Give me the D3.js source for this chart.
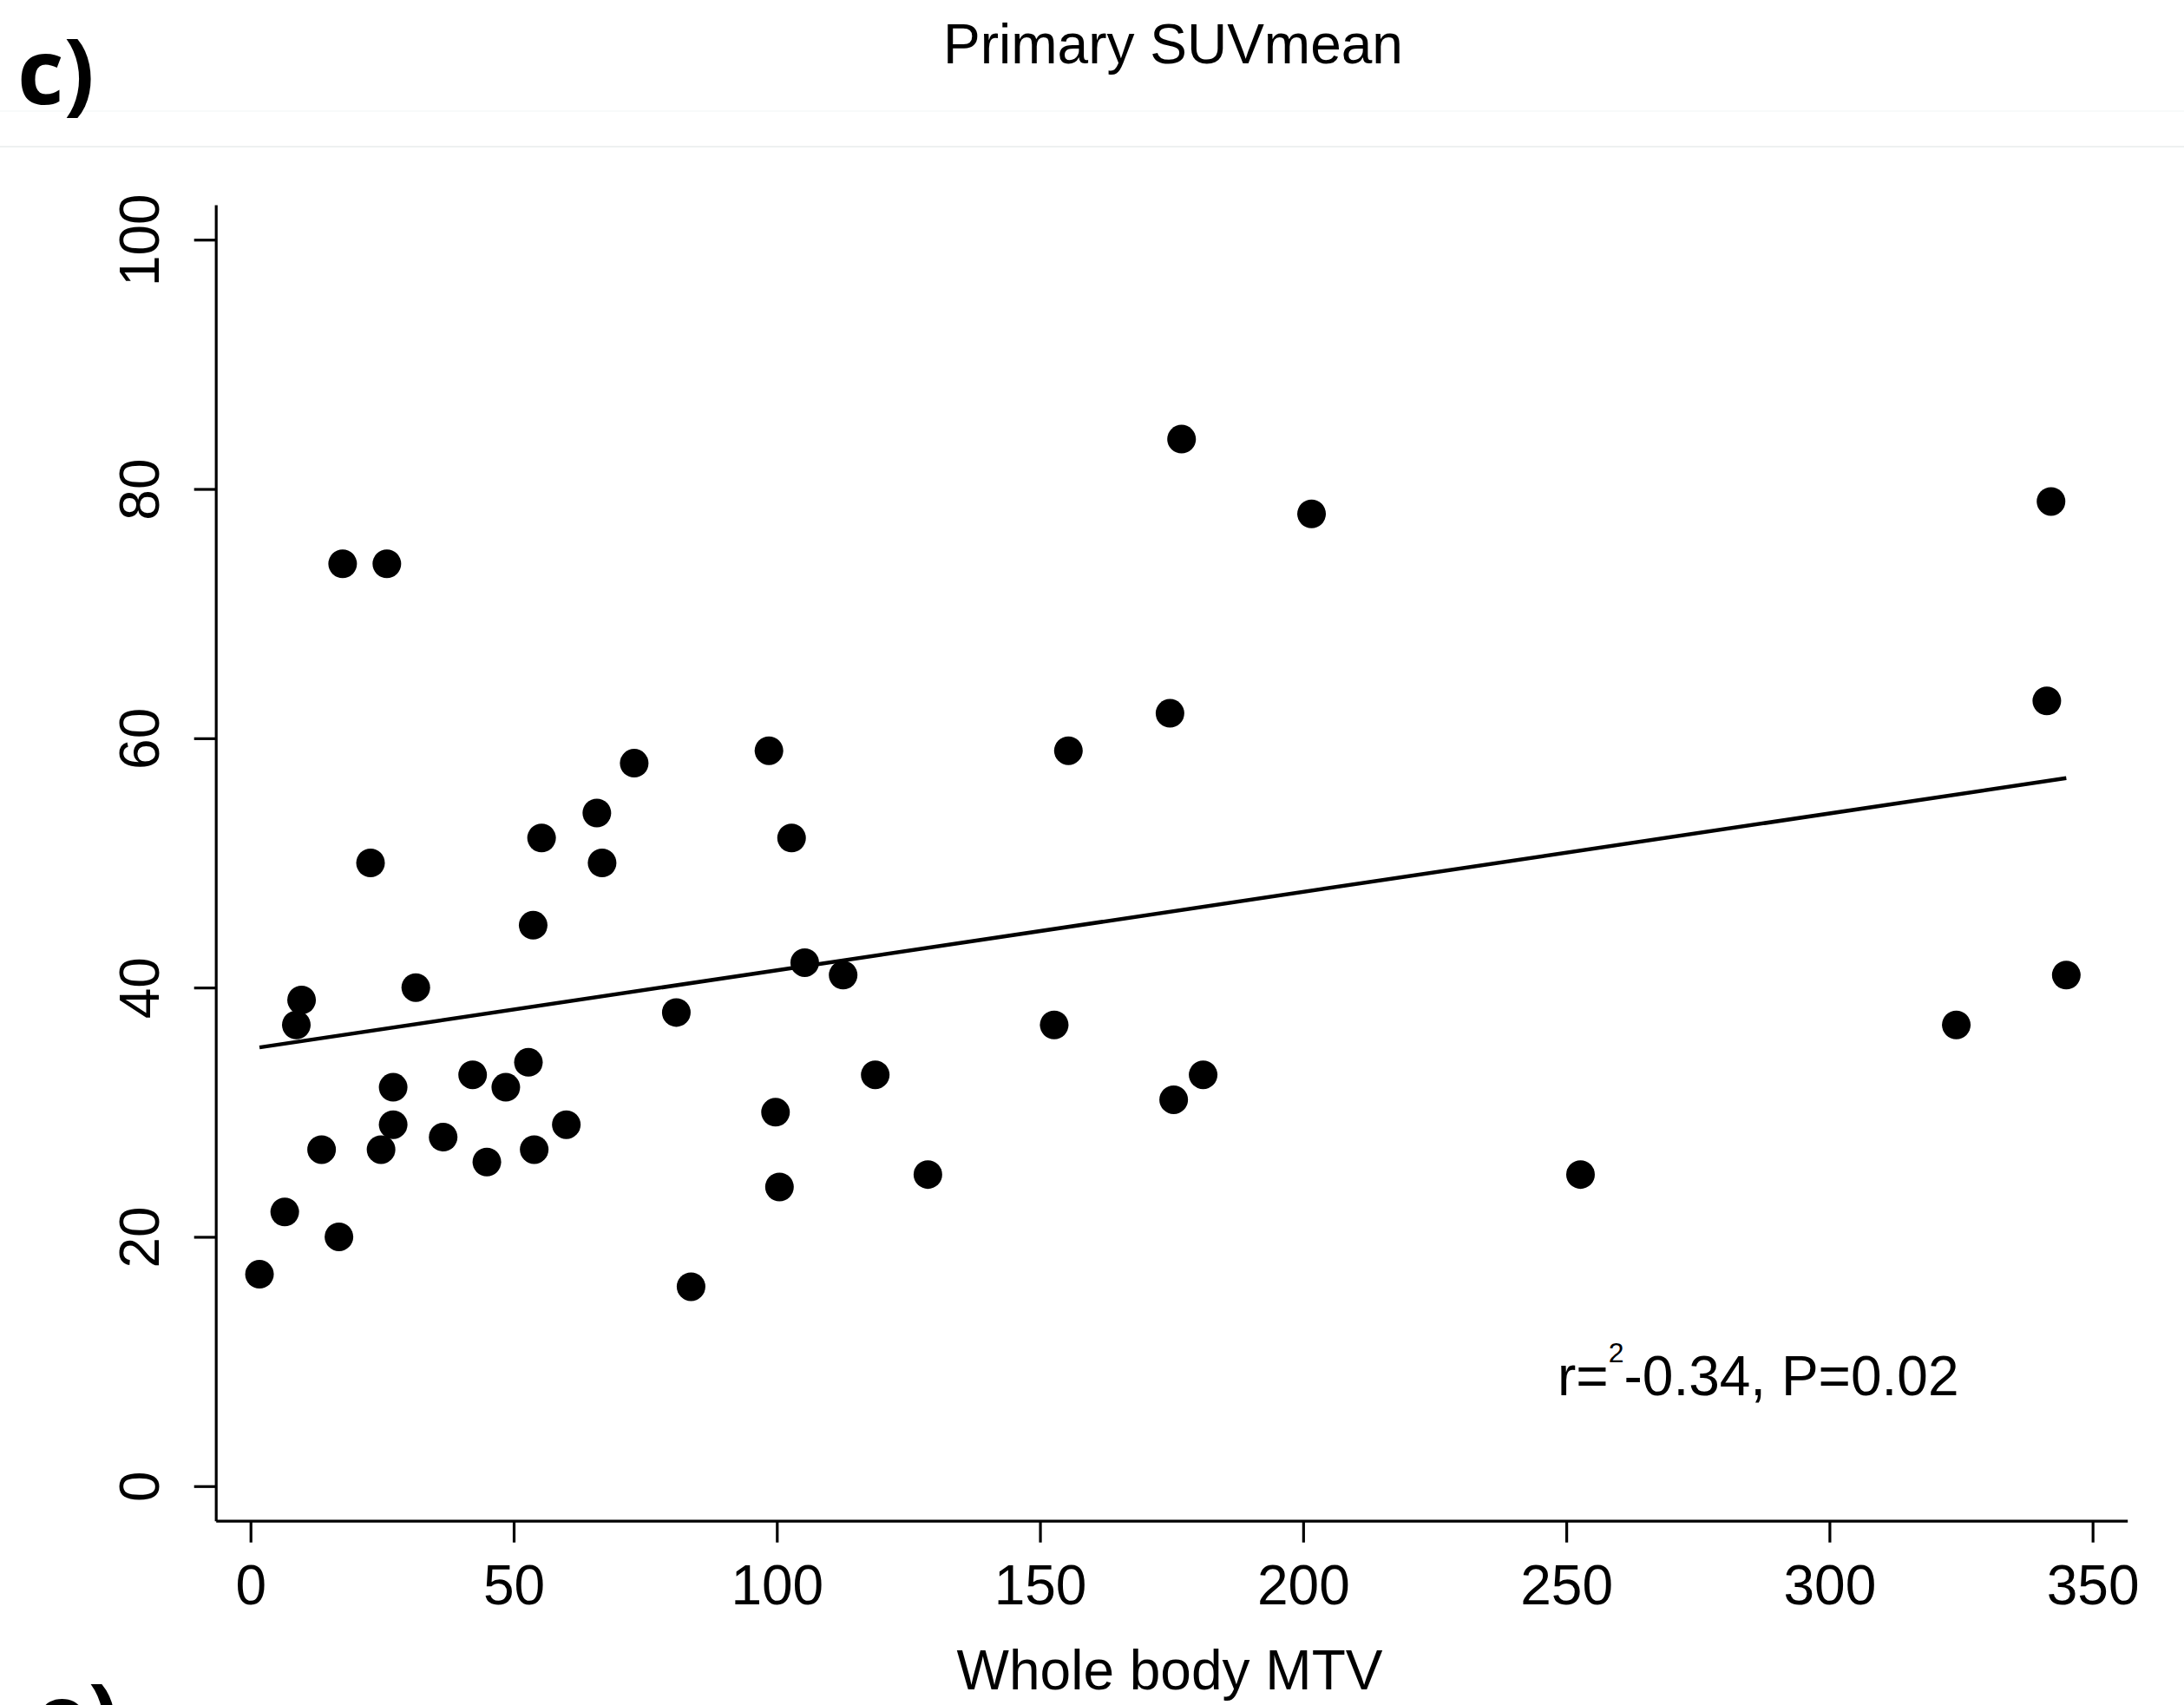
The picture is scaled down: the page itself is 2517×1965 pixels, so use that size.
<!DOCTYPE html>
<html>
<head>
<meta charset="utf-8">
<script src="https://cdn.jsdelivr.net/npm/d3@7"></script>
<style>
  html, body { margin: 0; padding: 0; background: #ffffff; }
  svg { display: block; }
  text { font-family: "Liberation Sans", Arial, sans-serif; fill: #000; }
</style>
</head>
<body>
<script>
// ---- data ----
const mtv = [1.7, 6.5, 8.7, 9.7, 13.5, 16.8, 17.5, 22.8, 24.8, 25.9, 27.1, 27.1, 31.4, 36.6, 42.2, 44.9,
  48.5, 52.8, 53.7, 53.9, 55.3, 60.0, 65.8, 66.8, 72.9, 80.9, 83.7, 98.5, 99.75, 100.5, 102.8, 105.3,
  112.6, 118.7, 128.7, 152.7, 155.4, 174.7, 175.4, 176.9, 181.0, 201.6, 252.7, 324.1, 341.3, 342.1, 345.0];
const suvmean = [17, 22, 37, 39, 27, 20, 74, 50, 27, 74, 32, 29, 40, 28, 33, 26,
  32, 34, 45, 27, 52, 29, 54, 50, 58, 38, 16, 59, 30, 24, 52, 42,
  41, 33, 25, 37, 59, 62, 31, 84, 33, 78, 25, 37, 63, 79, 41];
const fitX = [1.7, 345.0];
const fitY = [35.2, 56.8];
const xTicks = [0, 50, 100, 150, 200, 250, 300, 350];
const yTicks = [0, 20, 40, 60, 80, 100];
const titleText = "Primary SUVmean";
const xLabel = "Whole body MTV";
const panelLabel = "c)";
const nextPanelLabel = "e)";

// ---- layout ----
const W = 2517, H = 1965;
const svg = d3.select("body").append("svg").attr("width", W).attr("height", H);

const x = d3.scaleLinear().domain([-6.6, 356.6]).range([248.7, 2451.7]);
const y = d3.scaleLinear().domain([-2.78, 102.8]).range([1752.7, 236]);

// faint separator lines at top
svg.append("line").attr("x1", 0).attr("x2", W).attr("y1", 128).attr("y2", 128)
  .attr("stroke", "#f6f8f8").attr("stroke-width", 1.5);
svg.append("line").attr("x1", 0).attr("x2", W).attr("y1", 169).attr("y2", 169)
  .attr("stroke", "#eef1f1").attr("stroke-width", 2);

// panel labels
svg.append("text").attr("x", 20).attr("y", 120)
  .style("font-family", "'Open Sans', 'DejaVu Sans', sans-serif")
  .style("font-weight", 700).style("font-size", "104px").text(panelLabel);
svg.append("text").attr("x", 40).attr("y", 2016)
  .style("font-family", "'Open Sans', 'DejaVu Sans', sans-serif")
  .style("font-weight", 700).style("font-size", "104px").text(nextPanelLabel);

// title
svg.append("text").attr("x", 1352).attr("y", 73).attr("text-anchor", "middle")
  .style("font-size", "64px").text(titleText);

// x axis
const gx = svg.append("g").attr("transform", `translate(0,${y.range()[0]})`)
  .call(d3.axisBottom(x).tickValues(xTicks).tickFormat(d3.format("d")).tickSize(25).tickSizeOuter(0));
gx.select(".domain").attr("stroke", "#000").attr("stroke-width", 3.2);
gx.selectAll(".tick line").attr("stroke", "#000").attr("stroke-width", 3.2);
gx.selectAll(".tick text").attr("y", 96).attr("dy", 0)
  .style("font-size", "64px").style("font-family", "'Liberation Sans', Arial, sans-serif").attr("fill", "#000");

// y axis
const gy = svg.append("g").attr("transform", `translate(${x.range()[0]},0)`)
  .call(d3.axisLeft(y).tickValues(yTicks).tickFormat(d3.format("d")).tickSize(25).tickSizeOuter(0));
gy.select(".domain").attr("stroke", "#000").attr("stroke-width", 3.2);
gy.selectAll(".tick line").attr("stroke", "#000").attr("stroke-width", 3.2);
gy.selectAll(".tick text").attr("x", 0).attr("y", 0).attr("dy", 0)
  .attr("transform", "translate(-66,0) rotate(-90)").attr("text-anchor", "middle")
  .style("font-size", "64px").style("font-family", "'Liberation Sans', Arial, sans-serif").attr("fill", "#000");

// x axis title
svg.append("text").attr("x", 1348).attr("y", 1947).attr("text-anchor", "middle")
  .style("font-size", "64px").text(xLabel);

// regression line
const pts = fitX.map((d, i) => [d, fitY[i]]);
svg.append("path").datum(pts)
  .attr("d", d3.line().x(d => x(d[0])).y(d => y(d[1])))
  .attr("stroke", "#000").attr("stroke-width", 4.5).attr("fill", "none");

// points
svg.append("g").selectAll("circle").data(mtv.map((d, i) => ({ x: d, y: suvmean[i] })))
  .join("circle")
  .attr("cx", d => x(d.x)).attr("cy", d => y(d.y)).attr("r", 16.5)
  .attr("fill", "#000");

// annotation
const ann = svg.append("text").attr("x", 1795).attr("y", 1608).style("font-size", "64px");
ann.append("tspan").text("r=");
ann.append("tspan").attr("dy", -38).style("font-size", "32px").text("2");
ann.append("tspan").attr("dy", 38).style("font-size", "64px").text("-0.34, P=0.02");
</script>
</body>
</html>
